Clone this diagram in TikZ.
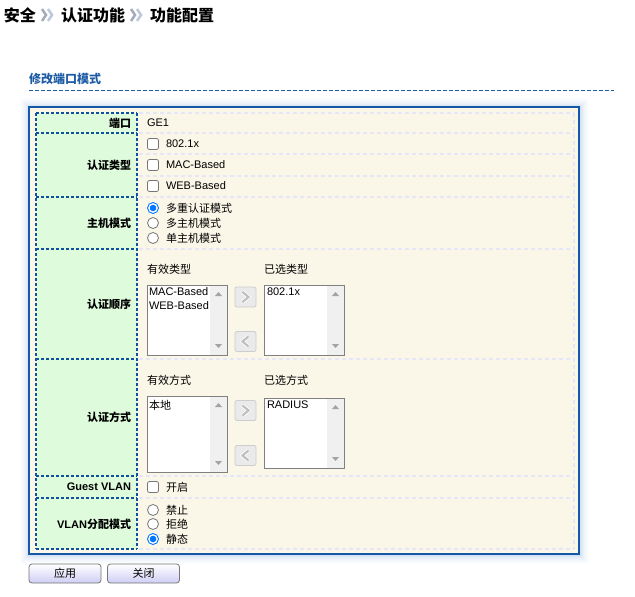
\documentclass[tikz,border=0pt]{standalone}
\usepackage{fontspec}
\setmainfont{Liberation Sans}
\newfontfamily\cjk{Noto Sans CJK SC}
\definecolor{boxblue}{RGB}{22,88,168}
\definecolor{dkdash}{RGB}{16,80,160}
\definecolor{lav}{RGB}{230,230,250}
\definecolor{cream}{RGB}{250,247,232}
\definecolor{lgreen}{RGB}{222,251,220}
\definecolor{ttlblue}{RGB}{30,92,165}
\definecolor{ctrlgray}{RGB}{118,118,118}
\definecolor{radblue}{RGB}{0,117,255}
\definecolor{sbgray}{RGB}{240,240,240}
\definecolor{arrgray}{RGB}{163,163,163}
\definecolor{lbgray}{RGB}{128,128,128}
\definecolor{btnlav}{RGB}{206,206,244}
\definecolor{glow}{RGB}{110,155,220}
\definecolor{chev}{RGB}{192,192,192}
\definecolor{abfill}{RGB}{234,234,234}
\definecolor{abdraw}{RGB}{205,205,205}
\definecolor{tchevA}{RGB}{165,172,185}
\definecolor{tchevB}{RGB}{190,200,220}
\tikzset{
  every node/.style={inner sep=0pt, outer sep=0pt},
  txt/.style={anchor=west, font=\fontsize{11}{13}\selectfont},
  ctxt/.style={anchor=west, font=\fontsize{11}{13}\selectfont\cjk},
  lbl/.style={anchor=east, font=\fontsize{11}{13}\selectfont\cjk\bfseries},
  lbll/.style={anchor=east, font=\fontsize{11}{13}\selectfont\bfseries},
  ttl/.style={anchor=west, font=\fontsize{16}{19}\selectfont\cjk\bfseries},
  sect/.style={anchor=west, font=\fontsize{12}{14}\selectfont\cjk\bfseries, text=ttlblue},
  cbx/.style={draw=ctrlgray, fill=white, rounded corners=2pt, minimum size=11pt, line width=0.8pt},
  rad/.style={circle, draw=ctrlgray, fill=white, minimum size=11pt, line width=0.8pt},
  radon/.style={circle, draw=radblue, fill=white, minimum size=11pt, line width=0.9pt,
    path picture={\fill[radblue] (path picture bounding box.center) circle (3.3pt);}},
  dkline/.style={dkdash, line width=1.2pt, dash pattern=on 3pt off 2pt},
  lavline/.style={lav, line width=1.8pt, dash pattern=on 4pt off 3pt},
  btn/.style={draw=ctrlgray, line width=0.8pt, rounded corners=3pt, top color=white, bottom color=btnlav,
    minimum width=72pt, minimum height=19pt, font=\fontsize{11}{13}\selectfont\cjk},
  abtn/.style={draw=abdraw, fill=abfill, rounded corners=2pt, minimum width=21pt, minimum height=20pt, line width=0.8pt},
  tchev/.style={line width=2.6pt, line cap=butt},
}
\newcommand\mylistbox[4]{%
  \fill[white] (#1,#2) rectangle (#3,#4);
  \fill[sbgray] ({#3-17},{#2}) rectangle (#3,#4);
  \fill[arrgray] ({#3-12},{#2+11}) -- ({#3-5},{#2+11}) -- ({#3-8.5},{#2+7}) -- cycle;
  \fill[arrgray] ({#3-12},{#4-11}) -- ({#3-5},{#4-11}) -- ({#3-8.5},{#4-7}) -- cycle;
  \draw[lbgray, line width=1pt] (#1,#2) rectangle (#3,#4);
}
\newcommand\chevright[1]{%
  \draw[white, line width=3.8pt] ([shift={(-3,-5)}]#1.center) -- ([shift={(3,0)}]#1.center) -- ([shift={(-3,5)}]#1.center);
  \draw[chev, line width=2.2pt] ([shift={(-3,-5)}]#1.center) -- ([shift={(3,0)}]#1.center) -- ([shift={(-3,5)}]#1.center);
}
\newcommand\chevleft[1]{%
  \draw[white, line width=3.8pt] ([shift={(3,-5)}]#1.center) -- ([shift={(-3,0)}]#1.center) -- ([shift={(3,5)}]#1.center);
  \draw[chev, line width=2.2pt] ([shift={(3,-5)}]#1.center) -- ([shift={(-3,0)}]#1.center) -- ([shift={(3,5)}]#1.center);
}
\begin{document}
\begin{tikzpicture}[x=1pt, y=-1pt]
\useasboundingbox[fill=white] (0,0) rectangle (635,597);

% ---- title
\node[ttl] (t1) at (4,15) {安全};
\draw[tchev, tchevA] (42,9) -- (46,15) -- (42,21);
\draw[tchev, tchevB] (48,9) -- (52,15) -- (48,21);
\node[ttl] (t2) at (61,15) {认证功能};
\draw[tchev, tchevA] (131,9) -- (135,15) -- (131,21);
\draw[tchev, tchevB] (137,9) -- (141,15) -- (137,21);
\node[ttl] (t3) at (150,15) {功能配置};

% ---- section title
\node[sect] (sec) at (29,79) {修改端口模式};
\draw[ttlblue, line width=1pt, dash pattern=on 4pt off 2pt] (29,90) -- (614,90);

% ---- glow
\foreach \i/\o in {1/0.30,2/0.24,3/0.19,4/0.15,5/0.11,6/0.08,7/0.05,8/0.03,9/0.015}
  \draw[glow, opacity=\o, line width=1pt] ({29-\i},{107-\i}) rectangle ({579+\i},{554+\i});

% ---- outer box
\draw[boxblue, fill=cream, line width=1.5pt] (29,107) rectangle (579,554);

% ---- label column
\fill[lgreen] (36,113) rectangle (137,549);
\foreach \yy in {113,133,197,249,359,476,498,549}
  \draw[dkline] (36,\yy) -- (137,\yy);
\draw[dkline] (36,113) -- (36,549);
\draw[dkline] (137,113) -- (137,549);

% ---- value column lines
\foreach \yy in {113,133,154,176,197,249,359,476,498,549}
  \draw[lavline] (139,\yy) -- (574,\yy);
\draw[lavline] (574,113) -- (574,549);

% ---- labels
\node[lbl] (l1) at (131,123) {端口};
\node[lbl] (l2) at (131,165) {认证类型};
\node[lbl] (l3) at (131,223) {主机模式};
\node[lbl] (l4) at (131,304) {认证顺序};
\node[lbl] (l5) at (131,417) {认证方式};
\node[lbll] (l6) at (131,487) {Guest VLAN};
\node[lbll] (l7) at (131,524) {VLAN{\cjk 分配模式}};

% ---- row 1
\node[txt] (ge1) at (147,123) {GE1};

% ---- row 2
\node[cbx] (cb1) at (153,144) {};
\node[txt] (cbt1) at (166,144) {802.1x};
\node[cbx] (cb2) at (153,165) {};
\node[txt] (cbt2) at (166,165) {MAC-Based};
\node[cbx] (cb3) at (153,186) {};
\node[txt] (cbt3) at (166,186) {WEB-Based};

% ---- row 3
\node[radon] (r1) at (153,208) {};
\node[ctxt] (rt1) at (166,208) {多重认证模式};
\node[rad] (r2) at (153,223) {};
\node[ctxt] (rt2) at (166,223) {多主机模式};
\node[rad] (r3) at (153,238) {};
\node[ctxt] (rt3) at (166,238) {单主机模式};

% ---- row 4
\node[ctxt] (h41) at (147,269) {有效类型};
\node[ctxt] (h42) at (264,269) {已选类型};
\mylistbox{147}{285}{227}{355}
\mylistbox{264}{285}{344}{355}
\node[txt] (i41) at (149,292) {MAC-Based};
\node[txt] (i42) at (149,306) {WEB-Based};
\node[txt] (i43) at (267,292) {802.1x};
\node[abtn] (b41) at (245.5,297) {};
\chevright{b41}
\node[abtn] (b42) at (245.5,341.5) {};
\chevleft{b42}

% ---- row 5
\node[ctxt] (h51) at (147,380) {有效方式};
\node[ctxt] (h52) at (264,380) {已选方式};
\mylistbox{147}{396}{227}{472}
\mylistbox{264}{398}{344}{468}
\node[ctxt] (i51) at (149,405) {本地};
\node[txt] (i52) at (267,405) {RADIUS};
\node[abtn] (b51) at (245.5,410.5) {};
\chevright{b51}
\node[abtn] (b52) at (245.5,455.5) {};
\chevleft{b52}

% ---- row 6
\node[cbx] (cb6) at (153,487) {};
\node[ctxt] (cbt6) at (166,487) {开启};

% ---- row 7
\node[rad] (r71) at (153,510) {};
\node[ctxt] (rt71) at (166,510) {禁止};
\node[rad] (r72) at (153,524) {};
\node[ctxt] (rt72) at (166,524) {拒绝};
\node[radon] (r73) at (153,539) {};
\node[ctxt] (rt73) at (166,539) {静态};

% ---- buttons
\node[btn] (apply) at (65,573.5) {应用};
\node[btn] (close) at (143.5,573.5) {关闭};
\end{tikzpicture}
\end{document}
